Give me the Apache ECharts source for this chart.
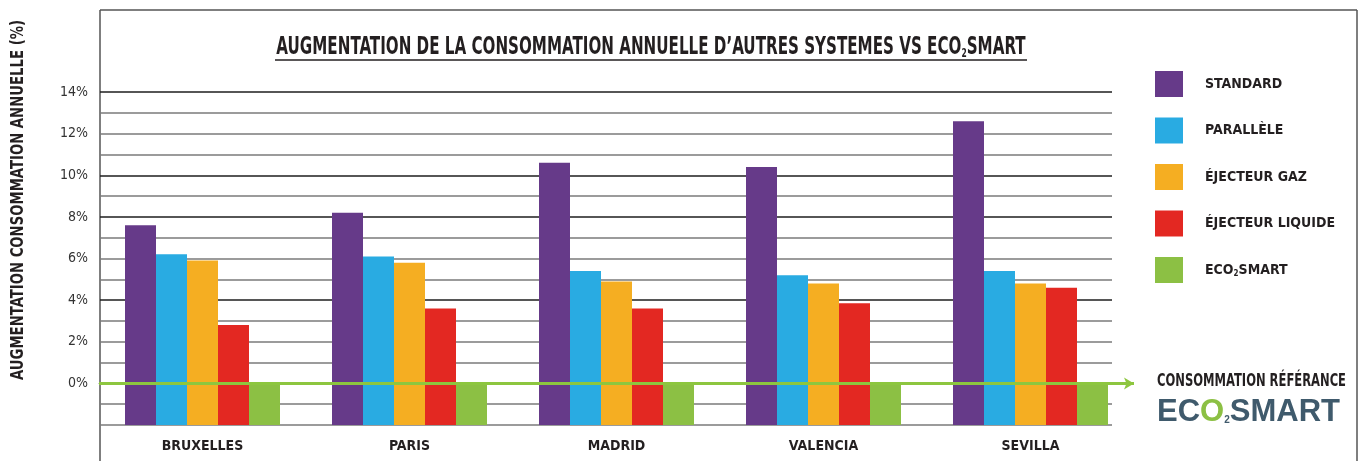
<!DOCTYPE html>
<html>
<head>
<meta charset="utf-8">
<script src="https://cdn.jsdelivr.net/npm/echarts@6/dist/echarts.min.js"></script>
<style>
  html, body { margin: 0; padding: 0; background: #fff; }
  #chart { width: 1365px; height: 461px; }
</style>
</head>
<body>
<div id="chart"></div>
<script>
const categories = ['BRUXELLES', 'PARIS', 'MADRID', 'VALENCIA', 'SEVILLA']
const seriesNames = ['STANDARD', 'PARALLÈLE', 'ÉJECTEUR GAZ', 'ÉJECTEUR LIQUIDE', 'ECO2SMART']
const standard = [7.6, 8.2, 10.6, 10.4, 12.6]
const parallele = [6.2, 6.1, 5.4, 5.2, 5.4]
const ejecteurGaz = [5.9, 5.8, 4.9, 4.8, 4.8]
const ejecteurLiquide = [2.8, 3.6, 3.6, 3.85, 4.6]
const ecoSmart = [0, 0, 0, 0, 0]
const yMin = -2
const yMax = 14
const referenceValue = 0

const FONT_NAME = "'DejaVu Sans Condensed', 'Liberation Sans', sans-serif"
const INK = '#231f20'
const colors = ['#663a89', '#29abe2', '#f5ae22', '#e32822', '#8cc044']
const seriesData = [standard, parallele, ejecteurGaz, ejecteurLiquide, ecoSmart]

// no condensed DIN-like font available, so squeeze texts horizontally to the reference width
const measureCtx = document.createElement('canvas').getContext('2d')
function fitScale(text, font, width) {
  measureCtx.font = font
  return width / measureCtx.measureText(text).width
}

// dark lines at 4, 8, 10, 14 — the rest grey
const gridColors = []
for (let v = yMin; v <= yMax; v++) {
  gridColors.push([4, 8, 10, 14].includes(v) ? '#1e1e1e' : '#7a7a7a')
}

const titleFont = 'bold 24px ' + FONT_NAME
const titleScale = fitScale('AUGMENTATION DE LA CONSOMMATION ANNUELLE D\u2019AUTRES SYSTEMES VS ECOSMART', titleFont, 744)
const yNameFont = 'bold 18px ' + FONT_NAME
const yNameText = 'AUGMENTATION CONSOMMATION ANNUELLE (%)'
const yNameScale = fitScale(yNameText, yNameFont, 360)
const refFont = 'bold 17px ' + FONT_NAME
const refText = 'CONSOMMATION RÉFÉRANCE'
const refScale = fitScale(refText, refFont, 189)

const chart = echarts.init(document.getElementById('chart'))

const bars = seriesData.map((data, i) => ({
  name: seriesNames[i],
  type: 'bar',
  xAxisIndex: 0,
  yAxisIndex: 0,
  data,
  barWidth: 31,
  barGap: '0%',
  itemStyle: { color: colors[i] },
  z: 3
}))

bars[4].markLine = {
  silent: true,
  symbol: ['none', 'arrow'],
  symbolSize: [9, 10],
  label: { show: false },
  lineStyle: { color: '#8dc63f', width: 3, type: 'solid' },
  data: [{ yAxis: referenceValue }],
  z: 5
}

chart.setOption({
  animation: false,
  backgroundColor: '#fff',
  textStyle: { fontFamily: FONT_NAME },
  legend: {
    orient: 'vertical',
    left: 1150,
    top: 66,
    itemWidth: 28,
    itemHeight: 26,
    itemGap: 20.5,
    icon: 'rect',
    data: seriesNames,
    formatter: (name) => name === 'ECO2SMART' ? '{a|ECO}{s|2}{a|SMART}' : '{a|' + name + '}',
    textStyle: {
      padding: [0, 0, 0, 17],
      rich: {
        a: { fontFamily: FONT_NAME, fontSize: 14, fontWeight: 'bold', color: INK },
        s: { fontFamily: FONT_NAME, fontSize: 8, fontWeight: 'bold', color: INK, padding: [7, 0, 0, 0] }
      }
    }
  },
  grid: [
    { left: 99, top: 92, width: 1035, bottom: 36 },
    { left: 100, top: 92, width: 1012, bottom: 36 }
  ],
  xAxis: [
    {
      gridIndex: 0,
      type: 'category',
      data: categories,
      axisLine: { show: false },
      axisTick: { show: false },
      axisLabel: { margin: 14, color: INK, fontSize: 14, fontWeight: 'bold', fontFamily: FONT_NAME }
    },
    {
      gridIndex: 1,
      type: 'category',
      data: categories,
      axisLine: { show: true, lineStyle: { color: '#111', width: 2.5 } },
      axisTick: { show: false },
      axisLabel: { show: false }
    }
  ],
  yAxis: [
    {
      gridIndex: 0,
      type: 'value',
      min: yMin,
      max: yMax,
      startValue: yMin,
      show: false,
      splitLine: { show: false }
    },
    {
      gridIndex: 1,
      type: 'value',
      min: yMin,
      max: yMax,
      interval: 1,
      axisLine: { show: false },
      axisTick: { show: false },
      axisLabel: {
        margin: 12,
        color: '#333',
        fontSize: 14,
        fontFamily: FONT_NAME,
        padding: [0, 0, 10, 0],
        formatter: (v) => (v >= 0 && v % 2 === 0) ? v + '%' : ''
      },
      splitLine: { show: true, lineStyle: { color: gridColors, width: 1.5 } }
    }
  ],
  graphic: [
    // frame
    { type: 'line', shape: { x1: 100, y1: 10, x2: 1357, y2: 10 }, style: { stroke: '#555', lineWidth: 1.5 }, silent: true },
    { type: 'line', shape: { x1: 100, y1: 10, x2: 100, y2: 461 }, style: { stroke: '#555', lineWidth: 1.5 }, silent: true },
    { type: 'line', shape: { x1: 1357, y1: 10, x2: 1357, y2: 461 }, style: { stroke: '#555', lineWidth: 1.5 }, silent: true },
    // title + underline
    {
      type: 'text',
      x: 651,
      y: 48,
      scaleX: titleScale,
      style: {
        text: '{a|AUGMENTATION DE LA CONSOMMATION ANNUELLE D\u2019AUTRES SYSTEMES VS ECO}{s|2}{a|SMART}',
        align: 'center',
        verticalAlign: 'middle',
        rich: {
          a: { font: titleFont, fill: INK },
          s: { font: 'bold 12px ' + FONT_NAME, fill: INK, padding: [12, 0, 0, 0] }
        }
      }
    },
    { type: 'line', shape: { x1: 275, y1: 60, x2: 1027, y2: 60 }, style: { stroke: INK, lineWidth: 1.5 }, silent: true },
    {
      type: 'text',
      x: 18,
      y: 200,
      rotation: Math.PI / 2,
      scaleX: yNameScale,
      style: {
        text: yNameText,
        font: yNameFont,
        fill: INK,
        align: 'center',
        verticalAlign: 'middle'
      }
    },
    {
      type: 'text',
      x: 1157,
      y: 382,
      scaleX: refScale,
      style: {
        text: refText,
        font: refFont,
        fill: INK,
        align: 'left',
        verticalAlign: 'middle'
      }
    },
    {
      type: 'text',
      x: 1157,
      y: 412,
      style: {
        text: '{d|EC}{g|O}{s|2}{d|SMART}',
        align: 'left',
        verticalAlign: 'middle',
        rich: {
          d: { fontFamily: 'Liberation Sans', fontSize: 31, fontWeight: 'bold', fill: '#3f5a6c' },
          g: { fontFamily: 'Liberation Sans', fontSize: 31, fontWeight: 'bold', fill: '#8cc044' },
          s: { fontFamily: 'Liberation Sans', fontSize: 10, fontWeight: 'bold', fill: '#3f5a6c', padding: [16, 0, 0, 0] }
        }
      }
    }
  ],
  series: bars
})
</script>
</body>
</html>
